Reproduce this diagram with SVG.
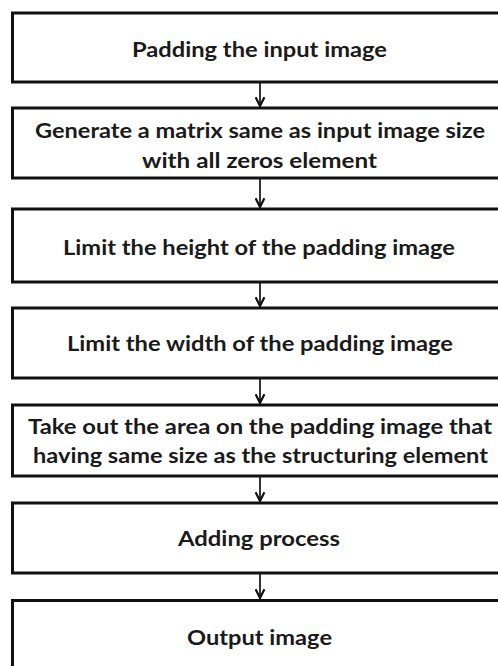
<svg xmlns="http://www.w3.org/2000/svg" width="498" height="666" viewBox="0 0 498 666">
<defs>
<style>
.box{fill:#fff;stroke:#111;stroke-width:3}
.t{font-family:Lato,"Open Sans","Liberation Sans",sans-serif;font-weight:bold;font-size:20px;fill:#1a1a1a;text-anchor:middle}
.c{stroke:#111;stroke-width:1.7;fill:none}
</style>
<marker id="ah" viewBox="0 0 10 10" refX="9" refY="5" markerWidth="11" markerHeight="11" markerUnits="userSpaceOnUse" orient="auto">
<path d="M1,1 L9,5 L1,9" fill="none" stroke="#111" stroke-width="2"/>
</marker>
</defs>
<rect width="498" height="666" fill="#fff"/>
<g id="connectors">
<line class="c" x1="260" y1="83" x2="260" y2="106" marker-end="url(#ah)"/>
<line class="c" x1="260" y1="179" x2="260" y2="207" marker-end="url(#ah)"/>
<line class="c" x1="260" y1="283" x2="260" y2="306" marker-end="url(#ah)"/>
<line class="c" x1="260" y1="379" x2="260" y2="403" marker-end="url(#ah)"/>
<line class="c" x1="260" y1="477" x2="260" y2="501" marker-end="url(#ah)"/>
<line class="c" x1="260" y1="574" x2="260" y2="598" marker-end="url(#ah)"/>
</g>
<g id="n1"><rect class="box" x="12.5" y="13" width="500" height="69"/>
<text class="t" x="259.5" y="57" textLength="255" lengthAdjust="spacingAndGlyphs">Padding the input image</text></g>
<g id="n2"><rect class="box" x="12.5" y="108" width="500" height="70"/>
<text class="t" x="260" y="138" textLength="450" lengthAdjust="spacingAndGlyphs">Generate a matrix same as input image size</text>
<text class="t" x="259.5" y="168" textLength="235" lengthAdjust="spacingAndGlyphs">with all zeros element</text></g>
<g id="n3"><rect class="box" x="12.5" y="209" width="500" height="73"/>
<text class="t" x="259" y="255" textLength="392" lengthAdjust="spacingAndGlyphs">Limit the height of the padding image</text></g>
<g id="n4"><rect class="box" x="12.5" y="308" width="500" height="70"/>
<text class="t" x="260" y="350.5" textLength="386" lengthAdjust="spacingAndGlyphs">Limit the width of the padding image</text></g>
<g id="n5"><rect class="box" x="12.5" y="405" width="500" height="71"/>
<text class="t" x="260" y="434" textLength="464" lengthAdjust="spacingAndGlyphs">Take out the area on the padding image that</text>
<text class="t" x="260.5" y="463" textLength="455" lengthAdjust="spacingAndGlyphs">having same size as the structuring element</text></g>
<g id="n6"><rect class="box" x="12.5" y="503" width="500" height="70"/>
<text class="t" x="259" y="546" textLength="162" lengthAdjust="spacingAndGlyphs">Adding process</text></g>
<g id="n7"><rect class="box" x="12.5" y="600.5" width="500" height="80"/>
<text class="t" x="259.5" y="645" textLength="145" lengthAdjust="spacingAndGlyphs">Output image</text></g>
</svg>
